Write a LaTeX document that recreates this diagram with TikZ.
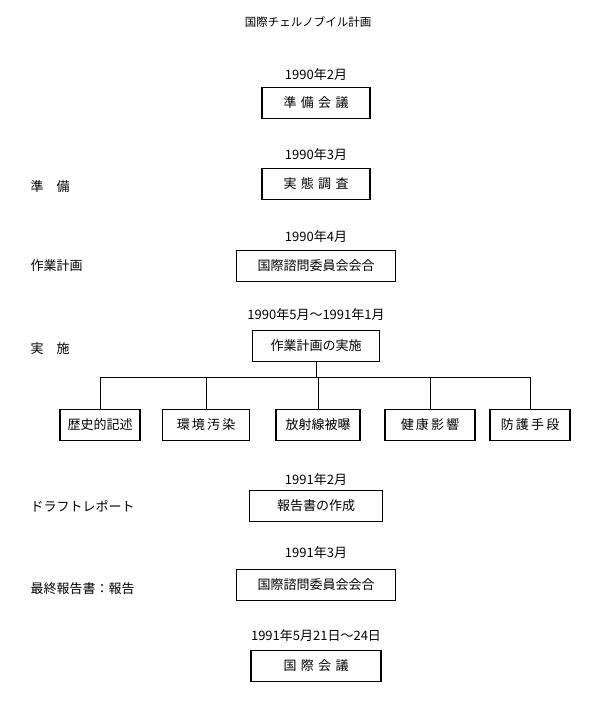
\documentclass[tikz,border=0pt]{standalone}
\usepackage{fontspec}
\setmainfont{Noto Sans CJK JP}
\usetikzlibrary{positioning}
\begin{document}
\begin{tikzpicture}[x=1pt,y=-1pt,
    stage/.style={draw,line width=1.3pt,minimum height=31pt,inner sep=0pt,font=\fontsize{13}{15}\selectfont},
    date/.style={font=\fontsize{13}{15}\selectfont},
    phase/.style={font=\fontsize{13}{15}\selectfont}]
    \useasboundingbox (0,0) rectangle (600,701);
    \node[font=\fontsize{11.5}{13}\selectfont] (title) at (308,22) {国際チェルノブイル計画};

    % main column
    \node[date] (d1) at (316,75) {1990年2月};
    \node[stage,minimum width=108pt] (prep) at (316,103) {準\,\,備\,\,会\,\,議};
    \node[date] (d2) at (316,155) {1990年3月};
    \node[stage,minimum width=108pt] (survey) at (316,184) {実\,\,態\,\,調\,\,査};
    \node[date] (d3) at (316,237) {1990年4月};
    \node[stage,minimum width=159pt] (council1) at (316,266) {国際諮問委員会会合};
    \node[date] (d4) at (316,315) {1990年5月〜1991年1月};
    \node[stage,minimum width=127pt] (work) at (316,346) {作業計画の実施};

    % work packages
    \node[stage,minimum width=80pt] (hist) at (100,425) {歴史的記述};
    \node[stage,minimum width=87pt] (env) at (206,425) {環\,境\,汚\,染};
    \node[stage,minimum width=84pt] (rad) at (318,425) {放射線被曝};
    \node[stage,minimum width=90pt] (health) at (430,425) {健\,康\,影\,響};
    \node[stage,minimum width=80pt] (prot) at (530,425) {防\,護\,手\,段};
    \coordinate (split) at (work.south |- 0,377);
    \draw[line width=0.8pt] (work.south) -- (split);
    \draw[line width=0.8pt] (hist.north |- split) -- (prot.north |- split);
    \foreach \n in {hist,env,rad,health,prot}
        \draw[line width=0.8pt] (\n.north |- split) -- (\n.north);

    \node[date] (d5) at (316,480) {1991年2月};
    \node[stage,minimum width=133pt] (draft) at (316,506) {報告書の作成};
    \node[date] (d6) at (316,553) {1991年3月};
    \node[stage,minimum width=159pt] (council2) at (316,585) {国際諮問委員会会合};
    \node[date] (d7) at (316,636) {1991年5月21日〜24日};
    \node[stage,minimum width=130pt] (conf) at (316,666) {国\,\,際\,\,会\,\,議};

    % phases on the left
    \node[phase,anchor=west] (p1) at (27,187) {準\quad 備};
    \node[phase,anchor=west] (p2) at (27,266) {作業計画};
    \node[phase,anchor=west] (p3) at (27,349) {実\quad 施};
    \node[phase,anchor=west] (p4) at (27,506) {ドラフトレポート};
    \node[phase,anchor=west] (p5) at (27,589) {最終報告書：報告};
\end{tikzpicture}
\end{document}
